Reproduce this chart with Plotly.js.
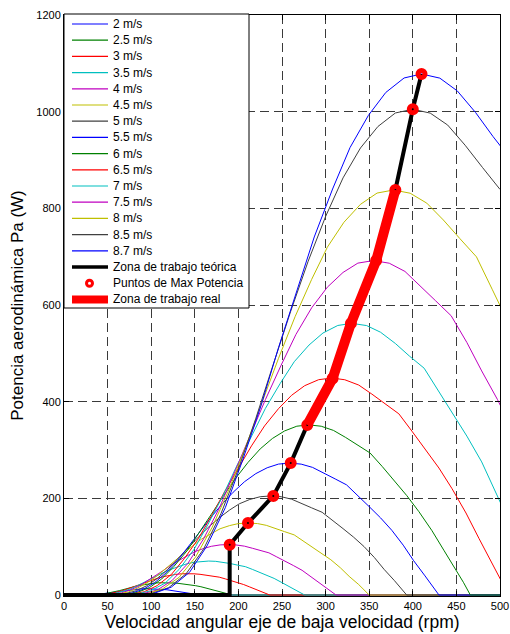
<!DOCTYPE html>
<html><head><meta charset="utf-8">
<script src="https://cdn.plot.ly/plotly-3.0.1.min.js"></script>
<style>html,body{margin:0;padding:0;background:#fff;}#chart{width:510px;height:634px;}</style>
</head><body><div id="chart"></div>
<script>
// ---- DATA ----
const speedLabels = ['2 m/s','2.5 m/s','3 m/s','3.5 m/s','4 m/s','4.5 m/s','5 m/s','5.5 m/s','6 m/s','6.5 m/s','7 m/s','7.5 m/s','8 m/s','8.5 m/s','8.7 m/s'];

const rpm_2   = [0,24,28,33,38,42,47,52,56,61,66,71,75,80,85,89,94,99,103,108,113,118,122,127,132,136,141,146,150,153,156,500];
const pot_2   = [0,0,0.2,0.6,1.2,2.2,3.4,4.8,6.2,7.7,9.0,10.2,11.2,12.1,12.6,13.0,13.1,13.0,12.7,12.1,11.5,10.9,9.9,8.8,7.7,6.4,5.0,3.4,1.9,1.0,0,0];
const rpm_2_5 = [0,29,35,41,46,52,58,64,70,75,81,87,93,99,104,110,116,122,128,133,139,145,151,157,162,168,174,180,186,189,193,500];
const pot_2_5 = [0,0.1,0.4,1.1,2.4,4.3,6.6,9.3,12.2,15.0,17.6,20.0,22.0,23.6,24.7,25.4,25.6,25.4,24.8,23.7,22.5,21.4,19.3,17.2,15.0,12.5,9.7,6.7,3.7,1.9,0,0];
const rpm_3   = [0,36,43,50,57,64,71,78,85,92,99,107,114,121,128,135,142,149,156,163,170,178,185,192,199,206,213,220,227,231,236,500];
const pot_3   = [0,0.1,0.7,1.9,4.2,7.4,11.5,16.1,21.0,25.9,30.4,34.5,38.0,40.8,42.7,44.0,44.3,43.9,42.9,41.0,39.0,37.0,33.4,29.7,25.9,21.7,16.7,11.5,6.4,3.3,0,0];
const rpm_3_5 = [0,42,50,58,66,75,83,91,100,108,116,125,133,141,149,158,166,174,183,191,199,208,216,224,232,241,249,257,266,271,276,500];
const pot_3_5 = [0,0.2,1.1,3.1,6.6,11.8,18.2,25.6,33.4,41.1,48.3,54.8,60.4,64.7,67.8,69.8,70.3,69.7,68.0,65.1,61.9,58.7,53.1,47.1,41.1,34.4,26.6,18.3,10.2,5.3,0,0];
const rpm_4   = [0,47,56,66,75,85,94,103,113,122,132,141,150,160,169,179,188,197,207,216,226,235,244,254,263,273,282,291,301,306,312,500];
const pot_4   = [0,0.3,1.6,4.6,9.9,17.5,27.1,38.0,49.6,61.1,71.8,81.4,89.7,96.2,100.8,103.7,104.5,103.7,101.1,96.8,92.0,87.3,78.9,70.0,61.1,51.2,39.5,27.2,15.2,7.8,0,0];
const rpm_4_5 = [0,53,63,74,84,95,106,116,127,137,148,158,169,179,190,200,211,222,232,243,253,264,274,285,295,306,317,327,338,344,350,500];
const pot_4_5 = [0,0.5,2.2,6.5,14.1,25.0,38.7,54.2,70.7,87.1,102.4,116.1,127.9,137.1,143.7,147.8,149.0,147.8,144.2,138.0,131.1,124.4,112.5,99.8,87.2,73.0,56.3,38.7,21.6,11.2,0,0];
const rpm_5   = [0,59,71,83,95,107,119,130,142,154,166,178,190,201,213,225,237,249,261,273,284,296,308,320,332,344,356,367,379,386,393,500];
const pot_5   = [0,0.7,3.1,9.0,19.3,34.4,53.2,74.6,97.3,119.8,140.9,159.7,176.0,188.7,197.7,203.4,205.0,203.4,198.3,189.8,180.4,171.2,154.8,137.4,119.9,100.4,77.5,53.3,29.7,15.4,0,0];
const rpm_5_5 = [0,65,78,91,104,117,130,142,155,168,181,194,207,220,233,246,259,272,285,298,311,324,337,350,363,376,389,401,414,422,430,500];
const pot_5_5 = [0,0.9,4.1,11.9,25.7,45.8,70.8,99.3,129.6,159.5,187.6,212.7,234.4,251.2,263.3,270.9,273.0,270.8,264.1,252.8,240.2,228.0,206.1,182.9,159.7,133.8,103.2,71.0,39.6,20.5,0,0];
const rpm_6   = [0,70,84,98,112,126,141,155,169,183,197,211,225,239,253,267,281,295,309,323,337,351,365,379,393,407,422,436,450,458,466,500];
const pot_6   = [0,1.1,5.3,15.4,33.2,59.0,91.3,128.1,167.1,205.7,241.9,274.3,302.3,323.9,339.5,349.3,352.0,349.2,340.6,326.0,309.8,293.9,265.8,235.8,205.9,172.5,133.1,91.5,51.0,26.4,0,0];
const rpm_6_5 = [0,77,92,107,123,138,154,169,184,200,215,230,246,261,276,292,307,322,338,353,368,384,399,414,430,445,461,476,491,500,510];
const pot_6_5 = [0,1.4,6.8,19.6,42.3,75.3,116.5,163.3,213.2,262.4,308.5,349.9,385.6,413.2,433.1,445.5,449.0,445.4,434.4,415.8,395.1,374.9,339.0,300.8,262.7,220.0,169.7,116.7,65.1,33.7,0];
const rpm_7   = [0,83,99,116,132,149,165,182,198,215,231,248,264,281,297,314,330,347,363,380,396,413,429,446,462,479,495,512];
const pot_7   = [0,1.8,8.5,24.6,53.0,94.2,145.8,204.5,266.8,328.4,386.2,437.9,482.6,517.2,542.1,557.7,562.0,557.5,543.7,520.4,494.6,469.3,424.3,376.5,328.8,275.4,212.4,146.1];
const rpm_7_5 = [0,89,107,124,142,160,178,195,213,231,249,266,284,302,320,337,355,373,391,408,426,444,462,479,497,515];
const pot_7_5 = [0,2.2,10.4,30.2,65.3,116.0,179.5,251.7,328.6,404.4,475.5,539.2,594.2,636.9,667.4,686.7,692.0,686.5,669.5,640.8,609.0,577.8,522.5,463.6,404.8,339.1];
const rpm_8   = [0,95,113,132,151,170,189,208,227,246,265,284,302,321,340,359,378,397,416,435,454,473,491,510];
const pot_8   = [0,2.7,12.7,36.6,79.0,140.4,217.4,304.9,397.9,489.7,575.9,653.0,719.6,771.2,808.3,831.6,838.0,831.3,810.8,776.0,737.4,699.7,632.7,561.5];
const rpm_8_5 = [0,100,120,140,160,180,200,220,240,260,280,300,320,340,360,380,400,420,440,460,480,500];
const pot_8_5 = [0,3.2,15.2,43.9,94.8,168.4,260.7,365.6,477.2,587.3,690.6,783.1,863.0,924.9,969.3,997.3,1005.0,997.0,972.3,930.6,884.4,839.2];
const rpm_8_7 = [0,103,123,144,164,185,205,226,246,267,287,308,328,349,369,390,410,431,451,472,492,513];
const pot_8_7 = [0,3.4,16.3,47.1,101.7,180.7,279.6,392.2,511.8,630.0,740.8,840.0,925.7,992.1,1039.7,1069.7,1078.0,1069.4,1043.0,998.2,948.6,900.1];

// Theoretical working zone (black) and real working zone (red)
const teoRpm  = [0,190,190,211,240,260,279,308,329,358,380,400,410];
const teoPot  = [0,0,104,149,205,273,352,448,562,692,838,1005,1078];
const realRpm = [279,308,329,358,380];
const realPot = [352,448,562,692,838];
// Max power points
const maxRpm  = [190,211,240,260,279,308,329,358,380,400,410];
const maxPot  = [104,149,205,273,352,448,562,692,838,1005,1078];

const extraLabels = ['Zona de trabajo teórica','Puntos de Max Potencia','Zona de trabajo real'];
const xTitle = 'Velocidad angular eje de baja velocidad (rpm)';
const yTitle = 'Potencia aerodinámica Pa (W)';

// ---- STYLE ----
const curveColors = ['#0000ff','#008000','#ff0000','#00bfbf','#bf00bf','#bfbf00','#404040',
                     '#0000ff','#008000','#ff0000','#00bfbf','#bf00bf','#bfbf00','#404040','#0000ff'];
const curves = [[rpm_2,pot_2],[rpm_2_5,pot_2_5],[rpm_3,pot_3],[rpm_3_5,pot_3_5],[rpm_4,pot_4],
  [rpm_4_5,pot_4_5],[rpm_5,pot_5],[rpm_5_5,pot_5_5],[rpm_6,pot_6],[rpm_6_5,pot_6_5],[rpm_7,pot_7],
  [rpm_7_5,pot_7_5],[rpm_8,pot_8],[rpm_8_5,pot_8_5],[rpm_8_7,pot_8_7]];

const traces = curves.map((c,i)=>({x:c[0], y:c[1], type:'scatter', mode:'lines', name:speedLabels[i],
  line:{color:curveColors[i], width:1}, showlegend:false, hoverinfo:'skip'}));
traces.push({x:teoRpm, y:teoPot, type:'scatter', mode:'lines', name:extraLabels[0], line:{color:'#000', width:4}, showlegend:false, hoverinfo:'skip'});
traces.push({x:realRpm, y:realPot, type:'scatter', mode:'lines', name:extraLabels[2], line:{color:'#ff0000', width:10}, showlegend:false, hoverinfo:'skip'});
traces.push({x:maxRpm, y:maxPot, type:'scatter', mode:'markers', name:extraLabels[1],
  marker:{symbol:'circle-open', size:7, color:'#ff0000', line:{color:'#ff0000', width:5}}, showlegend:false, hoverinfo:'skip'});

// custom legend (pixel layout)
const W=510, H=634, ML=64, MR=10, MT=15, MB=38;
const PW=W-ML-MR, PH=H-MT-MB;
const px2x = p => (p-ML)/PW;
const px2y = p => (MT+PH-p)/PH;
const shapes = [], annotations = [];
shapes.push({type:'rect', xref:'paper', yref:'paper', x0:px2x(64), x1:px2x(249), y0:px2y(308), y1:px2y(14),
  fillcolor:'#ffffff', line:{color:'#000', width:1}, layer:'above'});
const allLabels = speedLabels.concat(extraLabels);
allLabels.forEach((lab,i)=>{
  const yc = 24 + 16.2*i;
  const yp = px2y(yc);
  if (i < 15) {
    shapes.push({type:'line', xref:'paper', yref:'paper', x0:px2x(72), x1:px2x(108), y0:yp, y1:yp, line:{color:curveColors[i], width:1.2}, layer:'above'});
  } else if (i === 15) {
    shapes.push({type:'line', xref:'paper', yref:'paper', x0:px2x(72), x1:px2x(108), y0:yp, y1:yp, line:{color:'#000', width:3.5}, layer:'above'});
  } else if (i === 16) {
    shapes.push({type:'circle', xref:'paper', yref:'paper', x0:px2x(89.5-3), x1:px2x(89.5+3), y0:px2y(yc+3), y1:px2y(yc-3),
      fillcolor:'#ffffff', line:{color:'#ff0000', width:3}, layer:'above'});
  } else {
    shapes.push({type:'line', xref:'paper', yref:'paper', x0:px2x(72), x1:px2x(108), y0:yp, y1:yp, line:{color:'#ff0000', width:8}, layer:'above'});
  }
  annotations.push({xref:'paper', yref:'paper', x:px2x(111), y:yp, xanchor:'left', yanchor:'middle',
    text:lab, showarrow:false, font:{size:12, color:'#000'}});
});

const axisCommon = {ticks:'inside', ticklen:5, tickcolor:'#000', tickwidth:1, showline:true, linecolor:'#000', linewidth:1,
  mirror:'ticks', showgrid:true, gridcolor:'#3a3a3a', gridwidth:1, griddash:'9px,5px', zeroline:false, fixedrange:true,
  tickfont:{size:11, color:'#000'}};

const layout = {
  width:W, height:H, margin:{l:ML, r:MR, t:MT, b:MB, pad:0},
  paper_bgcolor:'#fff', plot_bgcolor:'#fff',
  font:{family:'"Liberation Sans", Arial, sans-serif', color:'#000', size:11},
  showlegend:false,
  xaxis:Object.assign({}, axisCommon, {range:[0,500], tick0:0, dtick:50,
    title:{text:xTitle, font:{size:17.5}, standoff:4}}),
  yaxis:Object.assign({}, axisCommon, {range:[-2,1200], tick0:0, dtick:200,
    title:{text:yTitle, font:{size:17}, standoff:8}}),
  shapes:shapes, annotations:annotations
};
Plotly.newPlot('chart', traces, layout, {staticPlot:true, displayModeBar:false});
</script>
</body></html>
